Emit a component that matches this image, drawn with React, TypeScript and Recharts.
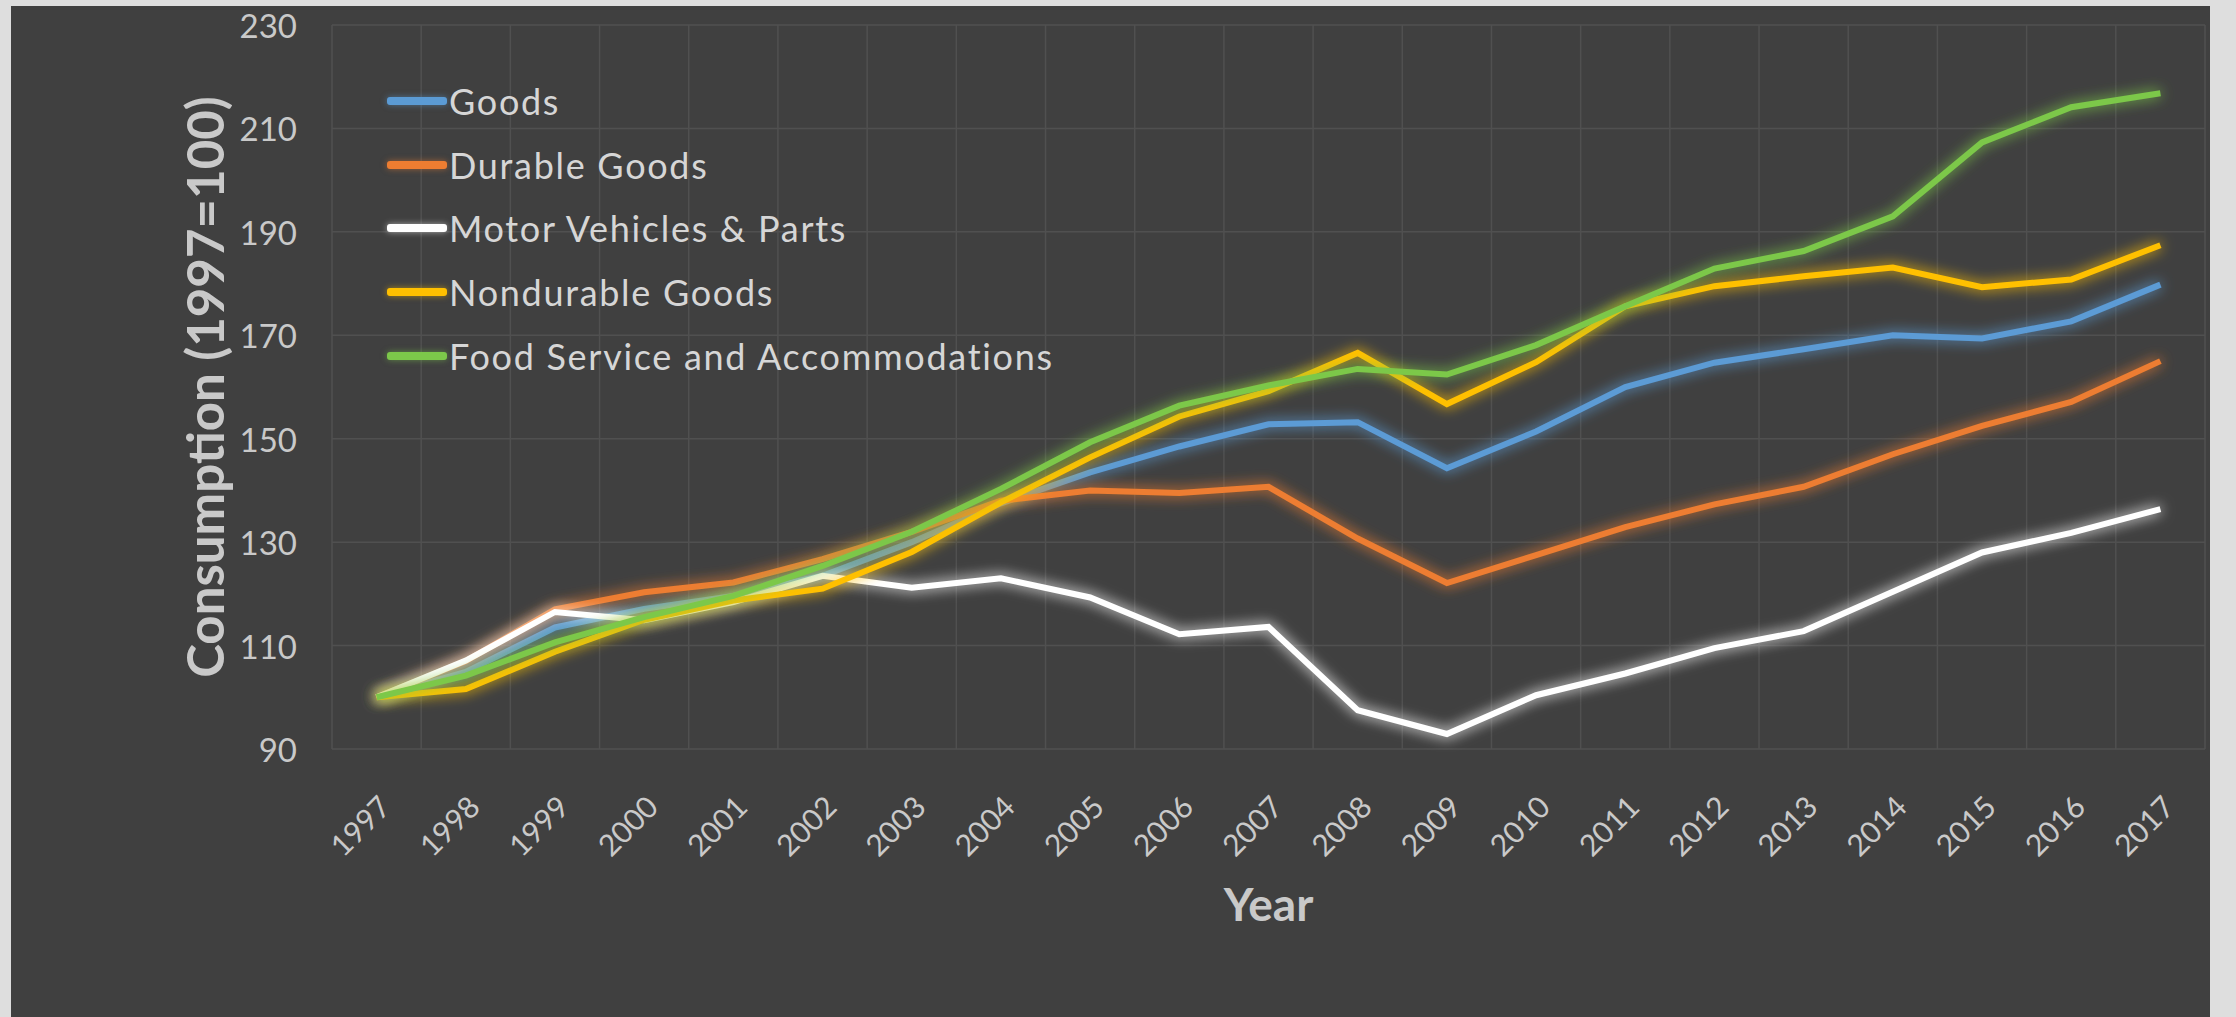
import { CartesianGrid, Legend, Line, LineChart, XAxis, YAxis } from "recharts";

const years = [
  1997, 1998, 1999, 2000, 2001, 2002, 2003, 2004, 2005, 2006, 2007, 2008, 2009, 2010, 2011, 2012, 2013, 2014,
  2015, 2016, 2017,
];
const goods = [
  100, 104.9, 113.5, 117.1, 119.6, 123.5, 130.0, 137.5, 143.5, 148.5, 152.8, 153.2, 144.3, 151.4, 160.0, 164.7,
  167.3, 170.0, 169.4, 172.7, 179.8,
];
const durableGoods = [
  100, 107, 117, 120.3, 122.2, 126.7, 132.0, 138.0, 140.0, 139.5, 140.7, 130.7, 122.1, 127.5, 132.9, 137.3, 140.7,
  147.0, 152.5, 157.1, 165.0,
];
const motorVehicles = [
  100, 107.1, 116.5, 114.9, 118.4, 123.5, 121.2, 123.0, 119.3, 112.2, 113.6, 97.5, 92.9, 100.4, 104.6, 109.5, 112.8,
  120.4, 128.0, 131.8, 136.4,
];
const nondurableGoods = [
  100, 101.6, 108.8, 115.0, 118.7, 121.0, 128.1, 137.7, 146.4, 154.3, 159.2, 166.6, 156.7, 164.8, 175.6, 179.5, 181.4,
  183.1, 179.3, 180.8, 187.4,
];
const foodService = [
  100, 104.2, 110.6, 115.5, 119.6, 125.4, 132.0, 140.3, 149.3, 156.4, 160.3, 163.5, 162.4, 168.1, 175.6, 182.9, 186.3,
  193.0, 207.3, 214.1, 216.8,
];
const yTicks = [90, 110, 130, 150, 170, 190, 210, 230];

// vertical grid sits between categories, like Excel
const gridYears = [...years.map((y) => y - 0.5), years[years.length - 1] + 0.5];

const series = [
  { key: "goods", name: "Goods", color: "#5b9bd5", values: goods },
  { key: "durable", name: "Durable Goods", color: "#ed7d31", values: durableGoods },
  { key: "motor", name: "Motor Vehicles & Parts", color: "#ffffff", values: motorVehicles },
  { key: "nondurable", name: "Nondurable Goods", color: "#ffc000", values: nondurableGoods },
  { key: "food", name: "Food Service and Accommodations", color: "#7cc84a", values: foodService },
];

const data = years.map((year, i) => {
  const row: Record<string, number> = { year };
  series.forEach((s) => (row[s.key] = s.values[i]));
  return row;
});

const TEXT = "#c9c9c9";

function XTick({ x, y, payload }: any) {
  const ax = x + 16;
  const ay = y + 60;
  return (
    <text x={ax} y={ay} transform={`rotate(-45 ${ax} ${ay})`} textAnchor="end" fill={TEXT} fontSize={30}>
      {payload.value}
    </text>
  );
}

function YTick({ x, y, payload }: any) {
  return (
    <text x={x - 35} y={y} textAnchor="end" dominantBaseline="central" fill={TEXT} fontSize={33}>
      {payload.value}
    </text>
  );
}

function LegendBox() {
  return (
    <div>
      {series.map((s) => (
        <div key={s.key} style={{ display: "flex", alignItems: "center", height: 63.7 }}>
          <div
            style={{
              width: 60,
              height: 8,
              borderRadius: 3,
              background: s.color,
              marginRight: 2,
              boxShadow: `0 0 6px ${s.color}88`,
            }}
          />
          <span style={{ fontSize: 36, color: "#d6d6d6", whiteSpace: "nowrap", letterSpacing: 1.7 }}>{s.name}</span>
        </div>
      ))}
    </div>
  );
}

export default function App() {
  return (
    <div
      style={{
        position: "fixed",
        left: 0,
        top: 0,
        width: 2236,
        height: 1017,
        background: "#dedede",
        fontFamily: "Lato, 'Open Sans', sans-serif",
      }}
    >
      <div style={{ position: "absolute", left: 11, top: 6, width: 2199, height: 1011, background: "#404040" }}>
        <LineChart width={2199} height={1011} data={data} margin={{ top: 19, right: 5, left: 0, bottom: 0 }}>
          <defs>
            <filter id="glow" filterUnits="userSpaceOnUse" x={0} y={0} width={2199} height={1011}>
              <feGaussianBlur in="SourceGraphic" stdDeviation={7} result="blur" />
              <feComponentTransfer in="blur" result="soft">
                <feFuncA type="linear" slope={1.1} />
              </feComponentTransfer>
              <feMerge>
                <feMergeNode in="soft" />
                <feMergeNode in="SourceGraphic" />
              </feMerge>
            </filter>
          </defs>
          <CartesianGrid stroke="#505050" strokeWidth={1.5} verticalValues={gridYears} />
          <XAxis
            dataKey="year"
            type="number"
            domain={[years[0] - 0.5, years[years.length - 1] + 0.5]}
            ticks={years}
            interval={0}
            height={268}
            axisLine={false}
            tickLine={false}
            tickSize={0}
            tickMargin={0}
            tick={<XTick />}
            label={{
              content: ({ viewBox }: any) => (
                <text
                  x={viewBox.x + viewBox.width / 2}
                  y={viewBox.y + 154}
                  textAnchor="middle"
                  dominantBaseline="central"
                  fill={TEXT}
                  fontSize={46}
                  fontWeight="bold"
                >
                  Year
                </text>
              ),
            }}
          />
          <YAxis
            domain={[90, 230]}
            ticks={yTicks}
            interval={0}
            width={321}
            axisLine={false}
            tickLine={false}
            tickSize={0}
            tickMargin={0}
            tick={<YTick />}
            label={{
              content: ({ viewBox }: any) => {
                const cx = viewBox.x + 193;
                const cy = viewBox.y + viewBox.height / 2;
                return (
                  <text
                    x={cx}
                    y={cy}
                    transform={`rotate(-90 ${cx} ${cy})`}
                    textAnchor="middle"
                    dominantBaseline="central"
                    fill={TEXT}
                    fontSize={51}
                    fontWeight="bold"
                  >
                    Consumption (1997=100)
                  </text>
                );
              },
            }}
          />
          <Legend
            layout="vertical"
            align="center"
            verticalAlign="middle"
            content={<LegendBox />}
            wrapperStyle={{ left: 376, top: 63, width: 900, height: 320 }}
          />
          {series.map((s) => (
            <Line
              key={s.key}
              type="linear"
              dataKey={s.key}
              name={s.name}
              stroke={s.color}
              strokeWidth={6}
              dot={false}
              activeDot={false}
              filter="url(#glow)"
              isAnimationActive={false}
            />
          ))}
        </LineChart>
      </div>
    </div>
  );
}
